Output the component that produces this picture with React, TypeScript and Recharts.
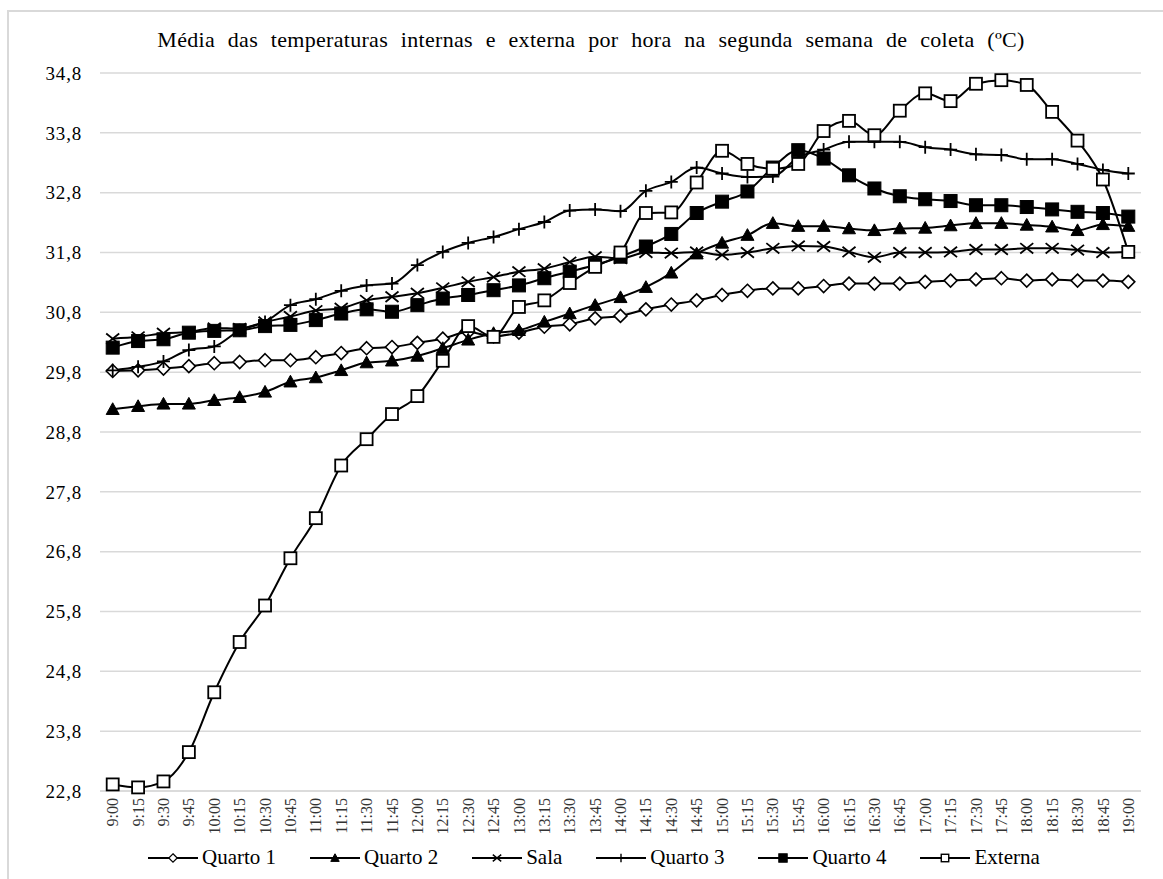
import React from 'react';
import { LineChart, Line, XAxis, YAxis, CartesianGrid } from 'recharts';

const FONT = "'Liberation Serif', 'DejaVu Serif', serif";

const horas = [
  '9:00', '9:15', '9:30', '9:45', '10:00', '10:15', '10:30', '10:45', '11:00', '11:15', '11:30',
  '11:45', '12:00', '12:15', '12:30', '12:45', '13:00', '13:15', '13:30', '13:45', '14:00', '14:15',
  '14:30', '14:45', '15:00', '15:15', '15:30', '15:45', '16:00', '16:15', '16:30', '16:45', '17:00',
  '17:15', '17:30', '17:45', '18:00', '18:15', '18:30', '18:45', '19:00',
];

const quarto1 = [
  29.82, 29.83, 29.86, 29.9, 29.95, 29.97, 30.0, 30.0, 30.05, 30.12, 30.2, 30.22, 30.29, 30.36,
  30.47, 30.4, 30.46, 30.56, 30.6, 30.7, 30.74, 30.85, 30.93, 31.0, 31.09, 31.16, 31.2, 31.2,
  31.24, 31.28, 31.28, 31.28, 31.31, 31.33, 31.35, 31.37, 31.33, 31.35, 31.33, 31.33, 31.31,
];
const quarto2 = [
  29.18, 29.23, 29.27, 29.27, 29.33, 29.38, 29.47, 29.64, 29.71, 29.83, 29.96, 29.99, 30.07, 30.2,
  30.34, 30.45, 30.5, 30.64, 30.78, 30.92, 31.05, 31.22, 31.46, 31.78, 31.96, 32.09, 32.29, 32.24,
  32.24, 32.2, 32.17, 32.2, 32.21, 32.25, 32.29, 32.29, 32.26, 32.23, 32.17, 32.27, 32.24,
];
const sala = [
  30.36, 30.39, 30.45, 30.47, 30.54, 30.53, 30.64, 30.73, 30.83, 30.87, 31.0, 31.06, 31.12, 31.21,
  31.31, 31.39, 31.48, 31.53, 31.64, 31.73, 31.7, 31.8, 31.79, 31.81, 31.76, 31.8, 31.87, 31.91,
  31.9, 31.81, 31.72, 31.8, 31.8, 31.81, 31.85, 31.85, 31.87, 31.87, 31.84, 31.8, 31.81,
];
const quarto3 = [
  29.83, 29.89, 29.98, 30.17, 30.23, 30.5, 30.64, 30.92, 31.02, 31.16, 31.25, 31.28, 31.59, 31.81,
  31.96, 32.06, 32.19, 32.31, 32.5, 32.52, 32.49, 32.83, 32.98, 33.22, 33.12, 33.06, 33.07, 33.39,
  33.52, 33.65, 33.65, 33.65, 33.56, 33.52, 33.44, 33.43, 33.36, 33.36, 33.28, 33.18, 33.12,
];
const quarto4 = [
  30.21, 30.32, 30.35, 30.46, 30.49, 30.5, 30.57, 30.59, 30.67, 30.78, 30.85, 30.81, 30.92, 31.03,
  31.09, 31.17, 31.25, 31.37, 31.48, 31.59, 31.73, 31.9, 32.11, 32.46, 32.65, 32.82, 33.22, 33.51,
  33.37, 33.09, 32.87, 32.74, 32.69, 32.66, 32.59, 32.59, 32.56, 32.52, 32.48, 32.46, 32.4,
];
const externa = [
  22.91, 22.86, 22.96, 23.45, 24.45, 25.29, 25.9, 26.69, 27.36, 28.24, 28.68, 29.1, 29.4, 29.99,
  30.57, 30.39, 30.89, 31.0, 31.29, 31.56, 31.8, 32.46, 32.47, 32.97, 33.5, 33.28, 33.2, 33.28,
  33.83, 34.0, 33.76, 34.17, 34.46, 34.33, 34.62, 34.68, 34.6, 34.15, 33.67, 33.02, 31.81,
];

const yTicks = [22.8, 23.8, 24.8, 25.8, 26.8, 27.8, 28.8, 29.8, 30.8, 31.8, 32.8, 33.8, 34.8];

type Shape = 'diamond' | 'triangle' | 'x' | 'plus' | 'square' | 'openSquare';

const series: { key: string; name: string; shape: Shape; values: number[] }[] = [
  { key: 'q1', name: 'Quarto 1', shape: 'diamond', values: quarto1 },
  { key: 'q2', name: 'Quarto 2', shape: 'triangle', values: quarto2 },
  { key: 'sala', name: 'Sala', shape: 'x', values: sala },
  { key: 'q3', name: 'Quarto 3', shape: 'plus', values: quarto3 },
  { key: 'q4', name: 'Quarto 4', shape: 'square', values: quarto4 },
  { key: 'ext', name: 'Externa', shape: 'openSquare', values: externa },
];

const data = horas.map((h, i) => {
  const row: Record<string, string | number> = { hora: h };
  series.forEach(s => { row[s.key] = s.values[i]; });
  return row;
});

function Marker({ shape, cx, cy, s = 1 }: { shape: Shape; cx: number; cy: number; s?: number }) {
  const r = 6.5 * s;
  const sw = s < 1 ? 1.4 : 1.8;
  switch (shape) {
    case 'diamond':
      return <path d={`M${cx},${cy - r} L${cx + r},${cy} L${cx},${cy + r} L${cx - r},${cy} Z`} fill="#fff" stroke="#000" strokeWidth={sw - 0.2} />;
    case 'triangle':
      return <path d={`M${cx},${cy - r} L${cx + r},${cy + r * 0.8} L${cx - r},${cy + r * 0.8} Z`} fill="#000" stroke="#000" strokeWidth={1} />;
    case 'x':
      return <path d={`M${cx - r},${cy - r * 0.8} L${cx + r},${cy + r * 0.8} M${cx - r},${cy + r * 0.8} L${cx + r},${cy - r * 0.8}`} stroke="#000" strokeWidth={sw} fill="none" />;
    case 'plus':
      return <path d={`M${cx - r},${cy} L${cx + r},${cy} M${cx},${cy - r} L${cx},${cy + r}`} stroke="#000" strokeWidth={sw} fill="none" />;
    case 'square':
      return <rect x={cx - r} y={cy - r} width={2 * r} height={2 * r} fill="#000" stroke="#000" strokeWidth={1} />;
    default:
      return <rect x={cx - r + 0.5} y={cy - r + 0.5} width={2 * r - 1} height={2 * r - 1} fill="#fff" stroke="#000" strokeWidth={sw} />;
  }
}

const XTick = (props: any) => {
  const { x, y, payload } = props;
  return (
    <text transform={`translate(${x},${y}) rotate(-90)`} textAnchor="end" dy="0.35em"
      fontFamily={FONT} fontSize={16} fill="#333">
      {payload.value}
    </text>
  );
};

export default function App() {
  return (
    <div style={{ position: 'absolute', left: 0, top: 0, width: 1163, height: 879, background: '#fff', overflow: 'hidden' }}>
      <div style={{ position: 'absolute', left: 7, top: 10, width: 1170, height: 880, borderTop: '2px solid #d9d9d9', borderLeft: '2px solid #d9d9d9' }} />
      <div style={{ position: 'absolute', left: 0, width: 1182, top: 27, textAlign: 'center', fontFamily: FONT, fontSize: 22, color: '#000', wordSpacing: 7, letterSpacing: 0.3 }}>
        Média das temperaturas internas e externa por hora na segunda semana de coleta (ºC)
      </div>
      <div style={{ position: 'absolute', left: 0, top: 0 }}>
        <LineChart width={1163} height={879} data={data} margin={{ top: 73, right: 22, bottom: 0, left: 0 }}>
          <CartesianGrid vertical={false} stroke="#d9d9d9" strokeWidth={1.5} />
          <XAxis dataKey="hora" interval={0} height={88} tickLine={false} axisLine={{ stroke: '#d9d9d9', strokeWidth: 1.5 }}
            tickSize={0} tickMargin={7} tick={<XTick />} padding={{ left: 12.7, right: 12.7 }} />
          <YAxis domain={[22.8, 34.8]} ticks={yTicks} width={100} tickLine={false} axisLine={false} tickSize={0} tickMargin={18}
            tickFormatter={(v: number) => v.toFixed(1).replace('.', ',')}
            tick={{ fontFamily: FONT, fontSize: 19, fill: '#000', letterSpacing: 0.8 }} />
          {series.map(s => (
            <Line key={s.key} dataKey={s.key} name={s.name} type="monotone" stroke="#000" strokeWidth={2}
              isAnimationActive={false}
              dot={(p: any) => <Marker key={`${s.key}-${p.index}`} shape={s.shape} cx={p.cx} cy={p.cy} />} />
          ))}
        </LineChart>
      </div>
      <div style={{ position: 'absolute', left: 148, top: 845, display: 'flex', alignItems: 'center', fontFamily: FONT, fontSize: 21, color: '#000' }}>
        {series.map(s => (
          <div key={s.key} style={{ display: 'flex', alignItems: 'center', marginRight: 34 }}>
            <svg width={50} height={24}>
              <line x1={0} y1={12} x2={50} y2={12} stroke="#000" strokeWidth={2} />
              <Marker shape={s.shape} cx={25} cy={12} s={0.65} />
            </svg>
            <span style={{ marginLeft: 4 }}>{s.name}</span>
          </div>
        ))}
      </div>
    </div>
  );
}
